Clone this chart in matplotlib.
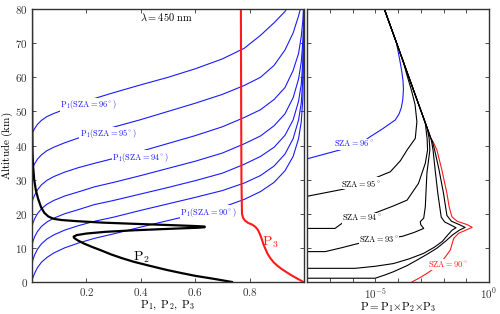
import numpy as np
import matplotlib
matplotlib.use('Agg')
import matplotlib.pyplot as plt

plt.rcParams['mathtext.fontset'] = 'cm'
plt.rcParams['font.family'] = ['DejaVu Serif']

# ---- left panel: P1 curves, altitude (km) read at fixed P1 values
P1_X = [0, 0, 0.003, 0.01, 0.02, 0.035, 0.055, 0.08, 0.12, 0.17, 0.23, 0.3, 0.4, 0.5, 0.6, 0.7,
        0.78, 0.84, 0.89, 0.93, 0.96, 0.98, 0.99, 0.996, 1.0]
P1_ALT_96 = [0, 43, 44, 45, 46.2, 47.4, 48.5, 49.4, 50.6, 52, 53.8, 55.5, 57.8, 60, 62.5, 65.4,
             68.5, 72.3, 76, 79.3, 83, 86, 88, 89.5, 90]
P1_ALT_95 = [0, 32.5, 33.6, 34.7, 36, 37.3, 38.5, 39.5, 40.8, 42.2, 43.8, 45.4, 47.6, 50, 52.4, 55,
             57.6, 60, 63.5, 68, 73, 78, 81, 85, 90]
P1_ALT_94 = [0, 23, 24.2, 25.5, 27, 28.5, 29.8, 30.9, 32.2, 33.5, 34.8, 36.2, 38.3, 40.6, 42.9, 45.5,
             48.2, 50.5, 53.5, 57, 62, 67, 72, 77, 84]
P1_ALT_93 = [0, 16, 17.2, 18.6, 20, 21.5, 22.8, 23.9, 25.2, 26.4, 27.9, 29.2, 31.2, 33.3, 35.4, 37.8,
             40.5, 42.8, 45.8, 49.3, 54, 59.5, 64.5, 71, 80]
P1_ALT_92 = [0, 10.5, 11.8, 13.3, 14.8, 16.3, 17.6, 18.7, 20, 21.2, 22.7, 23.9, 25.8, 27.7, 29.7, 31.9,
             34.5, 36.8, 39.5, 43, 47.5, 53, 58, 65, 80]
P1_ALT_91 = [0, 5, 6.4, 8, 9.6, 11.2, 12.6, 13.8, 15.2, 16.5, 17.8, 19, 21, 22.9, 24.8, 26.8,
             29, 31.2, 34, 37.5, 42, 47.5, 52.5, 60, 80]
P1_ALT_90 = [0, 0, 1.2, 2.6, 4.2, 5.8, 7.2, 8.5, 10, 11.4, 12.8, 14.1, 16.1, 18, 19.9, 21.9,
             24.2, 26.5, 29.2, 32.6, 36.8, 42, 47, 54, 80]

P2_X = [0.735, 0.67, 0.6, 0.55, 0.497, 0.44, 0.375, 0.33, 0.29, 0.253, 0.22, 0.19, 0.168, 0.155, 0.153,
        0.165, 0.2, 0.27, 0.375, 0.48, 0.56, 0.61, 0.635, 0.635, 0.6, 0.5, 0.375, 0.26, 0.17, 0.11,
        0.08, 0.06, 0.045, 0.033, 0.022, 0.014, 0.008, 0.004, 0.002, 0.001, 0.0]
P2_ALT = [0, 0.9, 1.8, 2.6, 3.5, 4.6, 5.9, 7, 8.1, 9.3, 10.3, 11.3, 12.2, 12.9, 13.3,
          13.75, 14.2, 14.7, 15.15, 15.5, 15.75, 15.9, 16.05, 16.25, 16.4, 16.7, 17.05, 17.4, 17.8, 18.15,
          18.5, 19.2, 20.3, 22, 24.5, 27, 30, 34, 38, 45, 80]

P3_X = [0.768, 0.769, 0.770, 0.772, 0.776, 0.783, 0.795, 0.81, 0.822, 0.831, 0.838, 0.845, 0.851, 0.858,
        0.866, 0.876, 0.888, 0.903, 0.918, 0.935, 0.955, 0.975, 0.998]
P3_ALT = [80, 50, 30, 20, 18.8, 18, 17.3, 16.8, 16.1, 15.2, 14, 12.5, 11, 9.7,
          8.3, 7, 5.8, 4.7, 3.8, 2.9, 1.9, 1, 0]

# ---- right panel: log10(P) against altitude
ENV_LOG = [-2.55, -2.71, -2.98, -3.25, -3.52, -3.79, -4.06, -4.33, -4.6]
ENV_ALT = [42, 45, 50, 55, 60, 65, 70, 75, 80]

SZA90_LOG = [-3.39, -3.05, -2.73, -2.4, -2.14, -1.9, -1.7, -1.55, -1.33, -0.95, -0.74, -0.95, -1.4,
             -1.63, -1.75, -1.85, -2.07, -2.29, -2.45]
SZA90_ALT = [0, 1.2, 2.5, 4, 5.5, 7.5, 9.4, 12.8, 14.3, 15.4, 16, 16.8, 17.8, 19.1, 22, 26, 32.8, 38.7, 41]
SZA91_LOG = [-8, -5.0, -4.6, -4.2, -3.6, -3.17, -2.7, -2.29, -1.9, -1.6, -1.3, -1.05, -1.3, -1.65,
             -1.85, -2.0, -2.2, -2.39, -2.5]
SZA91_ALT = [1.1, 1.1, 2.0, 3.0, 4.8, 6.4, 8.2, 9.9, 12, 13.8, 15.2, 16, 16.8, 17.8, 19.5, 26, 33, 38.7, 41.5]
SZA92_LOG = [-8, -5.89, -5.0, -4.2, -3.5, -2.87, -2.4, -2.05, -1.85, -1.62, -1.45, -1.65, -1.95,
             -2.1, -2.25, -2.37, -2.46, -2.54]
SZA92_ALT = [4.0, 4.0, 4.6, 5.4, 6.8, 8.4, 10.2, 11.9, 13.5, 15.2, 15.9, 16.6, 17.6, 19, 26, 33, 38.7, 41.8]
SZA93_LOG = [-8, -7.2, -6.5, -5.8, -5.0, -4.4, -3.8, -3.3, -2.87, -3.0, -3.02, -2.87, -2.8, -2.73,
             -2.6, -2.63]
SZA93_ALT = [8.9, 8.9, 10, 11.2, 12.3, 12.8, 13.4, 14.5, 15.7, 16.8, 17.7, 18.7, 22, 31.9, 38.7, 42]
SZA94_LOG = [-8, -6.77, -6.4, -5.6, -4.86, -4.2, -3.6, -3.1, -2.8, -2.7, -2.72, -2.8]
SZA94_ALT = [15.7, 15.7, 17.5, 18.7, 20.6, 22.3, 24, 28.9, 34.8, 38.7, 42, 46.5]
SZA95_LOG = [-8, -7.94, -6.4, -5.6, -5.0, -4.34, -3.9, -3.6, -3.24, -3.17, -3.25, -3.4, -3.6]
SZA95_ALT = [25, 25.2, 27.2, 29, 30.5, 32.3, 35.5, 38.7, 42.1, 47, 52, 56, 60.5]
SZA96_LOG = [-8, -6.5, -6.0, -5.5, -5.22, -4.7, -4.12, -3.95, -3.85, -3.79, -3.76, -3.78, -3.84, -3.92, -4.08]
SZA96_ALT = [36.1, 38.8, 39.7, 41.3, 42.6, 44.8, 47.5, 49.3, 51.2, 53.5, 56.5, 59, 62, 65, 70.5]


def with_env(logs, alts):
    lg = list(logs) + [v for v, a in zip(ENV_LOG, ENV_ALT) if a > alts[-1]]
    al = list(alts) + [a for a in ENV_ALT if a > alts[-1]]
    return 10.0 ** np.array(lg), al


fig = plt.figure(figsize=(5, 3.14), dpi=100)
ax1 = fig.add_axes([0.064, 0.102, 0.544, 0.869])
ax2 = fig.add_axes([0.614, 0.102, 0.364, 0.869])

blue = (0.1, 0.1, 1.0)
red = (1.0, 0.1, 0.1)
lbl = dict(fontsize=6, ha='center', va='center',
           bbox=dict(fc='white', ec='none', pad=0.3))

for alt in [P1_ALT_90, P1_ALT_91, P1_ALT_92, P1_ALT_93, P1_ALT_94, P1_ALT_95, P1_ALT_96]:
    ax1.plot(P1_X, alt, color=blue, lw=0.8)
ax1.plot(P2_X, P2_ALT, color='k', lw=1.6)
ax1.plot(P3_X, P3_ALT, color=red, lw=1.5)

ax1.text(0.207, 51.9, r'$\mathrm{P_1(SZA{=}96^\circ)}$', color=blue, **lbl)
ax1.text(0.28, 43.4, r'$\mathrm{P_1(SZA{=}95^\circ)}$', color=blue, **lbl)
ax1.text(0.40, 36.6, r'$\mathrm{P_1(SZA{=}94^\circ)}$', color=blue, **lbl)
ax1.text(0.65, 20.5, r'$\mathrm{P_1(SZA{=}90^\circ)}$', color=blue, **lbl)
ax1.text(0.40, 7.2, r'$\mathrm{P_2}$', color='k', fontsize=10, ha='center', va='center')
ax1.text(0.875, 11.5, r'$\mathrm{P_3}$', color=red, fontsize=10, ha='center', va='center')
ax1.text(0.495, 77.6, r'$\lambda\mathrm{{=}450\ nm}$', fontsize=7.5, ha='center', va='center')

ax1.set_xlim(0, 1)
ax1.set_ylim(0, 80)
ax1.set_xticks([0.2, 0.4, 0.6, 0.8])
ax1.set_xticklabels([r'$0.2$', r'$0.4$', r'$0.6$', r'$0.8$'])
yt = list(range(0, 81, 10))
ax1.set_yticks(yt)
ax1.set_yticklabels([r'$%d$' % v for v in yt])
ax1.set_xlabel(r'$\mathrm{P_1,\ P_2,\ P_3}$', fontsize=8, labelpad=0)
ax1.set_ylabel(r'$\mathrm{Altitude\ (km)}$', fontsize=8, labelpad=0)

# right panel
x, a = with_env(SZA96_LOG, SZA96_ALT)
ax2.plot(x, a, color=blue, lw=0.8)
x, a = with_env(SZA90_LOG, SZA90_ALT)
ax2.plot(x, a, color=red, lw=0.8)
for lg, al in [(SZA91_LOG, SZA91_ALT), (SZA92_LOG, SZA92_ALT), (SZA93_LOG, SZA93_ALT),
               (SZA94_LOG, SZA94_ALT), (SZA95_LOG, SZA95_ALT)]:
    x, a = with_env(lg, al)
    ax2.plot(x, a, color='k', lw=0.8)

ax2.text(10 ** -5.95, 40.4, r'$\mathrm{SZA{=}96^\circ}$', color=blue, **lbl)
ax2.text(10 ** -5.64, 29.0, r'$\mathrm{SZA{=}95^\circ}$', color='k', **lbl)
ax2.text(10 ** -5.59, 18.7, r'$\mathrm{SZA{=}94^\circ}$', color='k', **lbl)
ax2.text(10 ** -4.83, 12.3, r'$\mathrm{SZA{=}93^\circ}$', color='k', **lbl)
ax2.text(10 ** -1.79, 5.0, r'$\mathrm{SZA{=}90^\circ}$', color=red, **lbl)

ax2.set_xscale('log')
ax2.set_xlim(1e-8, 1)
ax2.set_ylim(0, 80)
dec = [10.0 ** k for k in range(-8, 1)]
ax2.set_xticks(dec)
ax2.set_xticklabels(['' if k not in (-5, 0) else r'$10^{%d}$' % k for k in range(-8, 1)])
ax2.xaxis.set_minor_locator(matplotlib.ticker.NullLocator())
ax2.set_yticks(yt)
ax2.set_yticklabels([])
ax2.set_xlabel(r'$\mathrm{P{=}P_1{\times}P_2{\times}P_3}$', fontsize=8, labelpad=-1)

for ax in (ax1, ax2):
    ax.tick_params(direction='in', top=True, right=True, length=3, width=0.6,
                   labelsize=8, colors='#333333', pad=3)
    for s in ax.spines.values():
        s.set_linewidth(1.0)
        s.set_color('#333333')

fig.savefig('out.png', dpi=100)
